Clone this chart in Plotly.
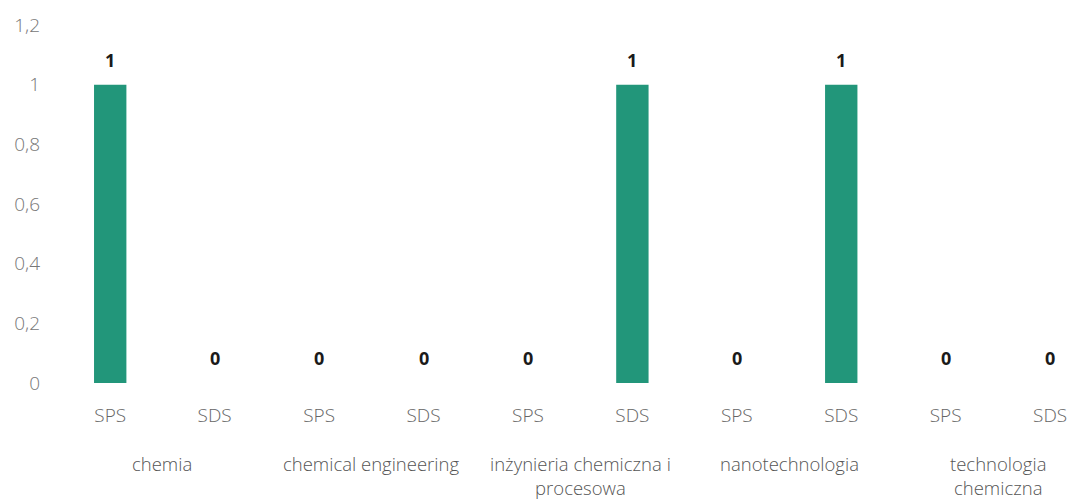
import plotly.graph_objects as go

groups = ["chemia", "chemical engineering", "inżynieria chemiczna i<br>procesowa",
          "nanotechnologia", "technologia<br>chemiczna"]
subcats = ["SPS", "SDS"]
values = [1, 0, 0, 0, 0, 1, 0, 1, 0, 0]
y_ticks = [0, 0.2, 0.4, 0.6, 0.8, 1, 1.2]

x_idx = list(range(len(values)))
x_labels = [subcats[i % 2] for i in x_idx]

fig = go.Figure(go.Bar(
    x=x_idx, y=values, width=0.31,
    marker=dict(color="#22967a", line=dict(width=0)),
    cliponaxis=False,
))

annotations = []
for i, v in enumerate(values):
    annotations.append(dict(
        x=i, y=v, xref="x", yref="y", yshift=11, yanchor="bottom",
        text=str(v), showarrow=False,
        font=dict(family="Open Sans", size=18, color="#1a1a1a", weight="bold"),
    ))
for g, name in enumerate(groups):
    annotations.append(dict(
        x=2 * g + 0.5, y=0, xref="x", yref="y", yshift=-66,
        text=name, showarrow=False, yanchor="top", align="center",
        font=dict(family="Open Sans", size=18.5, color="#555555", weight=300),
    ))

fig.update_layout(
    width=1071, height=499,
    margin=dict(l=58, r=0, t=25, b=116),
    paper_bgcolor="white", plot_bgcolor="white",
    separators=", ",
    showlegend=False,
    annotations=annotations,
    xaxis=dict(range=[-0.5, 9.2], tickvals=x_idx, ticktext=x_labels,
               showgrid=False, zeroline=False, showline=False, ticks="",
               ticklabelstandoff=19,
               tickfont=dict(family="Open Sans", size=19, color="#666666", weight=300)),
    yaxis=dict(range=[0, 1.2], tickvals=y_ticks, showgrid=False, zeroline=False,
               showline=False, ticks="", ticklabelstandoff=17,
               tickfont=dict(family="Open Sans", size=19, color="#777777", weight=300)),
)

fig.write_html(
    "out.html",
    config={"displayModeBar": False},
    post_script="document.body.style.margin='0';document.body.style.overflow='hidden';",
)
